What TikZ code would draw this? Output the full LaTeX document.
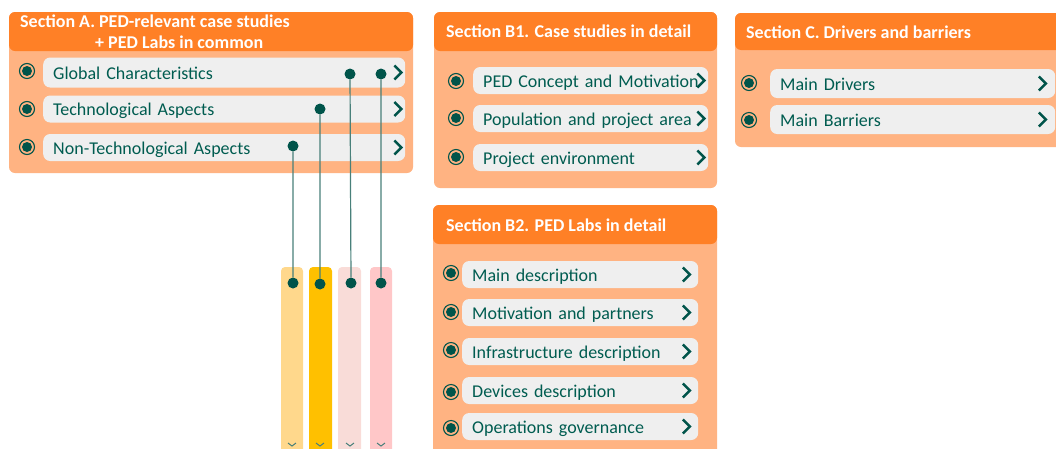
\documentclass[tikz,border=0pt]{standalone}
\usepackage{fontspec}
\setmainfont{Carlito}
\definecolor{hdrorange}{RGB}{255,128,38}
\definecolor{peach}{RGB}{255,179,130}
\definecolor{pillgray}{RGB}{239,239,239}
\definecolor{textteal}{RGB}{0,92,80}
\definecolor{dotteal}{RGB}{0,84,74}
\definecolor{linkgray}{RGB}{72,128,122}
\definecolor{barA}{RGB}{255,216,140}
\definecolor{barB}{RGB}{255,192,0}
\definecolor{barC}{RGB}{249,220,216}
\definecolor{barD}{RGB}{255,199,200}

\begin{document}
\begin{tikzpicture}[x=1pt,y=-1pt,
  panel/.style={fill=peach,rounded corners=6pt},
  header/.style={fill=hdrorange,rounded corners=6pt},
  title/.style={anchor=base west,inner sep=0pt,text=white,font=\bfseries\fontsize{18pt}{21pt}\selectfont},
  pill/.style={anchor=west,fill=pillgray,rounded corners=7pt,minimum width=#1,text width=#1-20pt,
    align=left,inner xsep=10pt,inner ysep=0pt,minimum height=27pt,text height=17pt,text depth=4pt,
    text=textteal,font=\fontsize{18pt}{21pt}\selectfont,
    execute at begin node={\hbox\bgroup},execute at end node={\egroup}},
  radio/.style={circle,draw=dotteal,line width=1.1pt,fill=peach,minimum size=15pt,inner sep=0pt,
    path picture={\fill[dotteal] (path picture bounding box.center) circle (5pt);}},
  dot/.style={circle,fill=dotteal,minimum size=11pt,inner sep=0pt},
  chev/.style={draw=dotteal,line width=2.4pt},
  link/.style={draw=linkgray,line width=1.2pt},
  tick/.style={draw=linkgray,line width=1pt}]
\useasboundingbox (0,0) rectangle (1056,448);

% panels
\path[panel] (9,12) rectangle (413,173);
\path[header] (9,12) rectangle (413,51);
\path[panel] (434,12) rectangle (717,188);
\path[header] (434,12) rectangle (717,51);
\path[panel] (433,205) rectangle (717,470);
\path[header] (433,205) rectangle (717,244);
\path[panel] (735,13) rectangle (1075,147);
\path[header] (735,13) rectangle (1075,50);

\node[title] (tA1) at (20,27) {Section A. PED-relevant case studies};
\node[title] (tA2) at (95,48) {+ PED Labs in common};
\node[title] (tB1) at (446,37) {Section B1. Case studies in detail};
\node[title] (tB2) at (446,231) {Section B2. PED Labs in detail};
\node[title] (tC)  at (746,38) {Section C. Drivers and barriers};

% section A
\node[pill=362pt,minimum height=30pt] (a1) at (43,72.5) {Global Characteristics};
\node[pill=362pt] (a2) at (43,109) {Technological Aspects};
\node[pill=362pt] (a3) at (43,147.5) {Non-Technological Aspects};
\node[radio] (ra1) at (27,71) {};
\node[radio] (ra2) at (27,109) {};
\node[radio] (ra3) at (27,147) {};

% section B1
\node[pill=235pt] (b1) at (473,80.5) {PED Concept and Motivation};
\node[pill=235pt] (b2) at (473,118.5) {Population and project area};
\node[pill=235pt] (b3) at (473,157.5) {Project environment};
\node[radio] (rb1) at (456,81) {};
\node[radio] (rb2) at (456,118) {};
\node[radio] (rb3) at (456,157) {};

% section B2
\node[pill=236pt] (l1) at (462,274.5) {Main description};
\node[pill=236pt] (l2) at (462,312.5) {Motivation and partners};
\node[pill=236pt] (l3) at (462,351.5) {Infrastructure description};
\node[pill=236pt] (l4) at (462,390.5) {Devices description};
\node[pill=236pt] (l5) at (462,426.5) {Operations governance};
\node[radio] (rl1) at (451,273) {};
\node[radio] (rl2) at (451,312) {};
\node[radio] (rl3) at (451,350) {};
\node[radio] (rl4) at (451,392) {};
\node[radio] (rl5) at (451,428) {};

% section C
\node[pill=285pt,minimum height=29pt] (c1) at (770,83.5) {Main Drivers};
\node[pill=285pt,minimum height=29pt] (c2) at (770,119.5) {Main Barriers};
\node[radio] (rc1) at (749,83) {};
\node[radio] (rc2) at (749,120) {};

\foreach \n/\o in {a1/11,a2/11,a3/11,b1/11,b2/11,b3/11,l1/15.5,l2/15.5,l3/15.5,l4/15.5,l5/15.5,c1/16.5,c2/16.5}
  \draw[chev] ([xshift=-\o pt,yshift=7pt]\n.east) -- ++(7,7) -- ++(-7,7);

% bars
\fill[barA,rounded corners=4pt] (281,267) rectangle (303,470);
\fill[barB,rounded corners=4pt] (309,267) rectangle (332,470);
\fill[barC,rounded corners=4pt] (338,267) rectangle (361,470);
\fill[barD,rounded corners=4pt] (370,267) rectangle (392,470);
\foreach \x in {292,320,350,381}
  \draw[tick] (\x-4,443) -- (\x,446) -- (\x+4,443);

% links
\node[dot] (dn) at (293,146) {};
\node[dot] (dt) at (320,109) {};
\node[dot] (dg1) at (350,74) {};
\node[dot] (dg2) at (381,74) {};
\node[dot] (k1) at (293,283) {};
\node[dot] (k2) at (320,284) {};
\node[dot] (k3) at (351,283) {};
\node[dot] (k4) at (381,283) {};
\path[link] (dn) -- (k1) (dt) -- (k2) (dg1) -- (k3) (dg2) -- (k4);
\end{tikzpicture}
\end{document}
